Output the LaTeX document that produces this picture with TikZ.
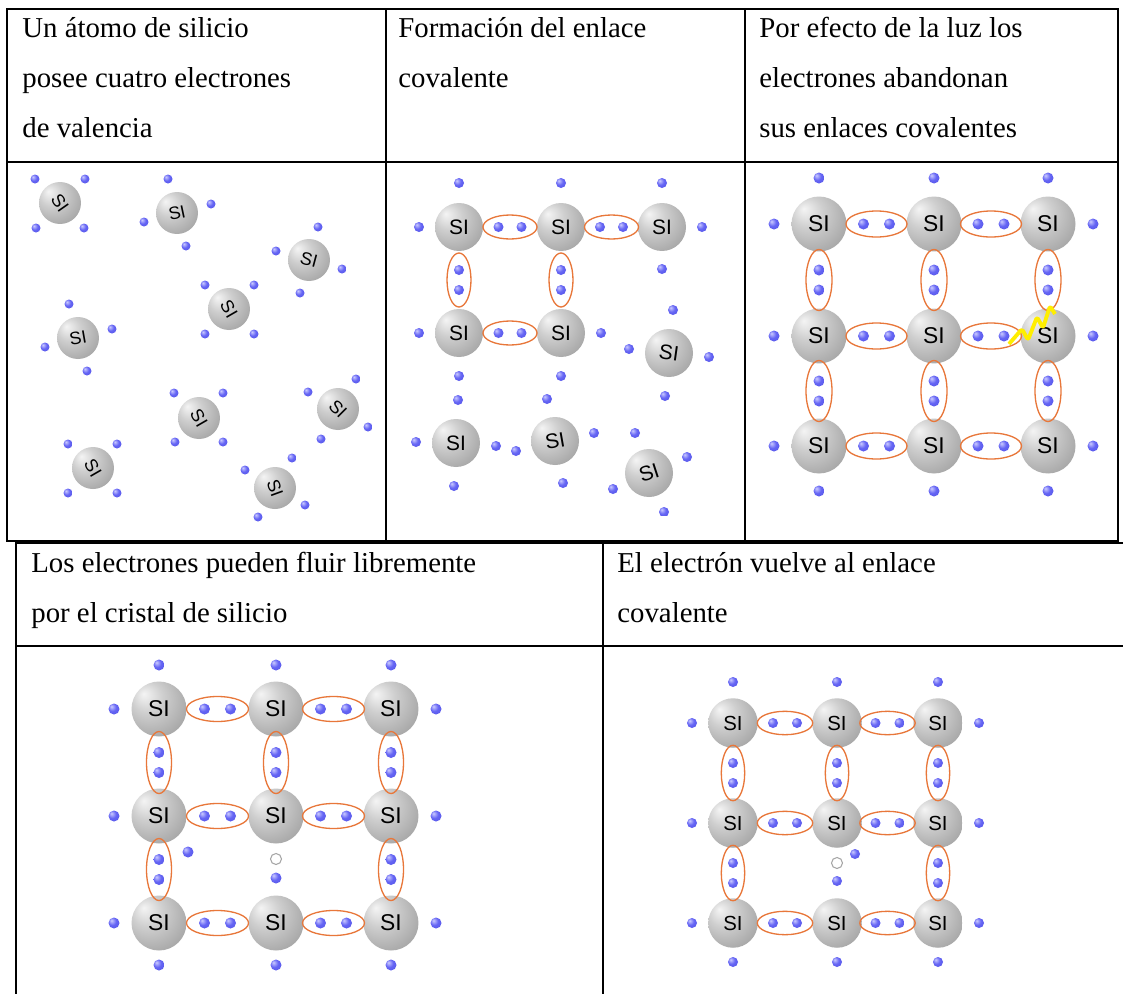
\documentclass[tikz,border=0pt]{standalone}
\usepackage{fontspec}
\setmainfont{Liberation Serif}
\setsansfont{Liberation Sans}

\definecolor{atomlight}{HTML}{F4F4F4}
\definecolor{atommid}{HTML}{CFCFCF}
\definecolor{atomdark}{HTML}{A3A3A3}
\definecolor{elight}{HTML}{CCCCFF}
\definecolor{eblue}{HTML}{6565F4}
\definecolor{edark}{HTML}{4444D8}
\definecolor{bondorange}{HTML}{E8773A}
\definecolor{luzyellow}{HTML}{FFEE00}

\pgfdeclareradialshading{atomshade}{\pgfpoint{-14bp}{14bp}}{color(0bp)=(atomlight); color(14bp)=(atommid); color(36bp)=(atomdark); color(60bp)=(atomdark)}
\pgfdeclareradialshading{eshade}{\pgfpoint{-12bp}{12bp}}{color(0bp)=(elight); color(18bp)=(eblue); color(60bp)=(edark)}

\tikzset{
  atom/.style={circle, inner sep=0pt, shading=atomshade, font=\sffamily},
  bond/.style={draw=bondorange, line width=0.75pt},
  hole/.style={draw=gray!70, fill=white, line width=0.6pt},
  luz/.style={draw=luzyellow, line width=2.2pt, line join=round, rounded corners=1pt},
  tabla/.style={line width=1.3pt},
  head/.style={anchor=base west, align=left, inner sep=0pt, font=\fontsize{16.4}{28.35}\selectfont},
}

% electron and bond pair (ellipse with its two electrons)
\newcommand{\elec}[2]{\shade[shading=eshade] (#1,#2) circle (\erad);}
\newcommand{\hbond}[2]{\draw[bond] (#1,#2) ellipse [x radius=\bondrx, y radius=\bondry];
  \elec{#1-\gaph}{#2}\elec{#1+\gaph}{#2}}
\newcommand{\vbond}[2]{\draw[bond] (#1,#2) ellipse [x radius=\bondry, y radius=\bondrx];
  \elec{#1}{#2-\gapv}\elec{#1}{#2+\gapv}}

\begin{document}
\begin{tikzpicture}[x=0.02cm, y=-0.02cm]
\fill[white] (0,0) rectangle (1123,994);
\useasboundingbox (0,0) rectangle (1123,994);

% loose atoms
\begin{scope}[atom/.append style={minimum size=0.84cm, font=\sffamily\fontsize{10.2}{12}\selectfont}]
  \def\erad{4.5}
  \foreach \x/\y/\r [count=\i] in {60/203/-55, 177/213/12, 309/260/-15, 229/309/-60, 78/338/10,
      199/418/-60, 338/409/-45, 93/468/-60, 275/488/-70}
    \node[atom] (atomo\i) at (\x,\y) {\rotatebox[origin=c]{\r}{SI}};
  \foreach \x/\y in {35/179, 85/179, 36/228, 84/228, 168/179, 211/204, 144/222, 186/246,
      318/227, 276/251, 342/269, 300/293, 205/285, 254/285, 205/334, 254/334,
      69/304, 112/329, 45/347, 87/371, 174/393, 223/393, 175/442, 223/442,
      356/379, 308/392, 368/427, 321/439, 68/444, 117/444, 68/493, 117/493,
      292/458, 245/470, 305/505, 258/517}
    {\elec{\x}{\y}}
\end{scope}

% first bonds
\begin{scope}[atom/.append style={minimum size=0.96cm, font=\sffamily\fontsize{11.9}{14}\selectfont}]
  \clip (386,162) rectangle (745,515);
  \def\erad{5}\def\bondrx{27}\def\bondry{12}\def\gaph{11.5}\def\gapv{10}
  \foreach \x/\y/\r [count=\i] in {459/227/0, 561/227/0, 662/227/0, 459/333/0, 561/333/0,
      669/353/-8, 456/443/0, 555/441/10, 649/473/18}
    \node[atom] (enlace\i) at (\x,\y) {\rotatebox[origin=c]{\r}{SI}};
  \hbond{510}{227} \hbond{611.5}{227} \hbond{510}{333}
  \vbond{459}{280} \vbond{561}{280}
  \foreach \x/\y in {459/183, 561/183, 662/183, 419/227, 702/227, 662/269, 419/333, 601/333,
      459/376, 561/376, 673/310, 629/349, 709/357, 665/396, 458/400, 416/442, 496/446,
      454/486, 547/399, 516/451, 594/433, 563/483, 635/433, 687/457, 613/489, 664/512}
    {\elec{\x}{\y}}
\end{scope}

% full crystal, light hits one bond
\begin{scope}[atom/.append style={minimum size=1.1cm, font=\sffamily\fontsize{13}{15}\selectfont}]
  \def\erad{5.5}\def\bondrx{30.5}\def\bondry{13}\def\gaph{13}\def\gapv{10}
  \foreach \x [count=\i] in {819,934,1048}
    \foreach \y [count=\j] in {224,336,446}
      \node[atom] (luz\i\j) at (\x,\y) {SI};
  \foreach \x in {876.5,991} {\foreach \y in {224,336,446} {\hbond{\x}{\y}}}
  \foreach \x in {819,934,1048} {\foreach \y in {280,391} {\vbond{\x}{\y}}}
  \foreach \x in {819,934,1048} {\elec{\x}{178} \elec{\x}{491}}
  \foreach \y in {224,336,446} {\elec{774}{\y} \elec{1093}{\y}}
  \draw[luz] (1009,344) -- (1022,329) -- (1028,340) -- (1037,317) -- (1043,328)
    -- (1050,306) -- (1055,314);
\end{scope}

% free electron and hole
\begin{scope}[atom/.append style={minimum size=1.1cm, font=\sffamily\fontsize{13}{15}\selectfont}]
  \def\erad{5.5}\def\bondrx{31}\def\bondry{12.5}\def\gaph{13}\def\gapv{10}
  \foreach \x [count=\i] in {159,276,391}
    \foreach \y [count=\j] in {709,816,923}
      \node[atom] (flujo\i\j) at (\x,\y) {SI};
  \foreach \x in {217.5,333.5} {\foreach \y in {709,816,923} {\hbond{\x}{\y}}}
  \foreach \x/\y in {159/762.5, 276/762.5, 391/762.5, 159/869.5, 391/869.5} {\vbond{\x}{\y}}
  \foreach \x in {159,276,391} {\elec{\x}{665} \elec{\x}{965}}
  \foreach \y in {709,816,923} {\elec{114}{\y} \elec{436}{\y}}
  \draw[hole] (276,859) circle (5.5);
  \elec{276}{878} \elec{188}{852}
\end{scope}

% electron back into the bond
\begin{scope}[atom/.append style={minimum size=0.99cm, font=\sffamily\fontsize{11.6}{14}\selectfont}]
  \def\erad{5}\def\bondrx{27.7}\def\bondry{11.7}\def\gaph{12}\def\gapv{10}
  \foreach \x [count=\i] in {733,837,938}
    \foreach \y [count=\j] in {723,823,923}
      \node[atom] (vuelve\i\j) at (\x,\y) {SI};
  \foreach \x in {785,887.5} {\foreach \y in {723,823,923} {\hbond{\x}{\y}}}
  \foreach \x/\y in {733/773, 837/773, 938/773, 733/873, 938/873} {\vbond{\x}{\y}}
  \foreach \x in {733,837,938} {\elec{\x}{682} \elec{\x}{962}}
  \foreach \y in {723,823,923} {\elec{692}{\y} \elec{979}{\y}}
  \draw[hole] (837,863) circle (5.5);
  \elec{837}{881} \elec{855}{854}
\end{scope}

% headings (base anchor sits on the last line)
\node[head] (t1) at (22,137) {Un átomo de silicio\\posee cuatro electrones\\de valencia};
\node[head] (t2) at (398,87) {Formación del enlace\\covalente};
\node[head] (t3) at (759,137) {Por efecto de la luz los\\electrones abandonan\\sus enlaces covalentes};
\node[head] (t4) at (31,622) {Los electrones pueden fluir libremente\\por el cristal de silicio};
\node[head] (t5) at (617,622) {El electrón vuelve al enlace\\covalente};

% table rules
\draw[tabla] (7,9) rectangle (1118,541);
\draw[tabla] (386,9) -- (386,541) (745,9) -- (745,541) (7,162) -- (1118,162);
\draw[tabla] (1123,543) -- (16,543) -- (16,994) (16,646) -- (1123,646) (603,543) -- (603,994);
\end{tikzpicture}
\end{document}
